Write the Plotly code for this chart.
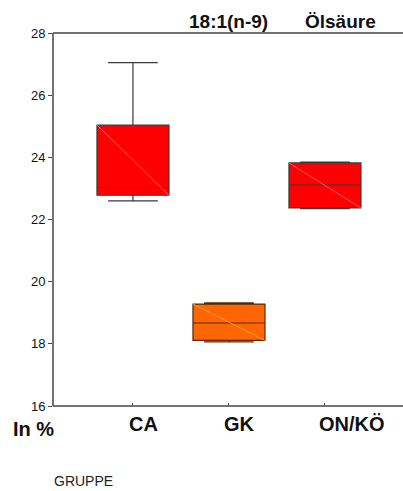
import plotly.graph_objects as go

categories = ["CA", "GK", "ON/KÖ"]
lower_whisker = [22.60, 18.06, 22.35]
q1_values = [22.78, 18.11, 22.37]
median_values = [23.03, 18.67, 23.11]
q3_values = [25.04, 19.28, 23.82]
upper_whisker = [27.05, 19.32, 23.85]
fill_colors = ["#FF0000", "#FF6600", "#FF0000"]
line_colors = ["#3a3a3a", "#5a2800", "#3a3a3a"]
diag_colors = ["#ff7a7a", "#ffa060", "#ff7a7a"]
label_shift = [11, 11, 27]
y_ticks = [16, 18, 20, 22, 24, 26, 28]

FONT = "Liberation Sans, Arial, sans-serif"
fig = go.Figure()
BW = 0.75
for i, cat in enumerate(categories):
    fig.add_trace(go.Box(
        x=[i], q1=[q1_values[i]], median=[median_values[i]], q3=[q3_values[i]],
        lowerfence=[lower_whisker[i]], upperfence=[upper_whisker[i]],
        width=BW, whiskerwidth=0.69, fillcolor=fill_colors[i],
        line=dict(color=line_colors[i], width=1.2), showlegend=False,
        hoverinfo="skip",
    ))
    fig.add_trace(go.Scatter(
        x=[i - BW / 2, i + BW / 2], y=[q3_values[i], q1_values[i]],
        mode="lines", line=dict(color=diag_colors[i], width=0.8),
        showlegend=False, hoverinfo="skip",
    ))

L, R, T, B = 53, 0, 33, 85
W, H = 403 - L - R, 491 - T - B
fig.update_layout(
    width=403, height=491,
    margin=dict(l=L, r=R, t=T, b=B),
    paper_bgcolor="white", plot_bgcolor="white",
    font=dict(family=FONT, color="#111"),
    xaxis=dict(
        range=[-0.833, -0.833 + W / 96.0], tickmode="array", tickvals=list(range(len(categories))),
        ticktext=["" for _ in categories], showline=False,
        ticks="inside", ticklen=3, tickcolor="#444", showgrid=False, zeroline=False,
    ),
    yaxis=dict(
        range=[16, 28], tickvals=y_ticks, showline=False,
        ticks="outside", ticklen=4, tickcolor="#444", showgrid=False, zeroline=False,
        tickfont=dict(size=13, color="#111"),
    ),
)

def px(x):
    return (x - L) / W
def py(y):
    return (491 - B - y) / H

# frame lines: top, bottom, left
frame = dict(xref="paper", yref="paper", line=dict(color="#444", width=1.5))
fig.add_shape(type="line", x0=0, x1=1, y0=1, y1=1, **frame)
fig.add_shape(type="line", x0=0, x1=1, y0=0, y1=0, **frame)
fig.add_shape(type="line", x0=0, x1=0, y0=0, y1=1, **frame)

for i, cat in enumerate(categories):
    fig.add_annotation(text="<b>%s</b>" % cat, x=i, xref="x", y=py(424), yref="paper",
                       xshift=label_shift[i], showarrow=False,
                       xanchor="center", yanchor="middle",
                       font=dict(size=20, color="#111", family=FONT))

ann_common = dict(xref="paper", yref="paper", showarrow=False)
fig.add_annotation(text="<b>18:1(n-9)</b>", x=px(228), y=py(22), xanchor="center", yanchor="middle",
                   font=dict(size=19, color="#111"), **ann_common)
fig.add_annotation(text="<b>Ölsäure</b>", x=px(340), y=py(22), xanchor="center", yanchor="middle",
                   font=dict(size=19, color="#111"), **ann_common)
fig.add_annotation(text="<b>In %</b>", x=px(33), y=py(429), xanchor="center", yanchor="middle",
                   font=dict(size=20, color="#111"), **ann_common)
fig.add_annotation(text="GRUPPE", x=px(52), y=py(481), xanchor="left", yanchor="middle",
                   font=dict(size=14, color="#222"), **ann_common)

fig.write_html("out.html")
